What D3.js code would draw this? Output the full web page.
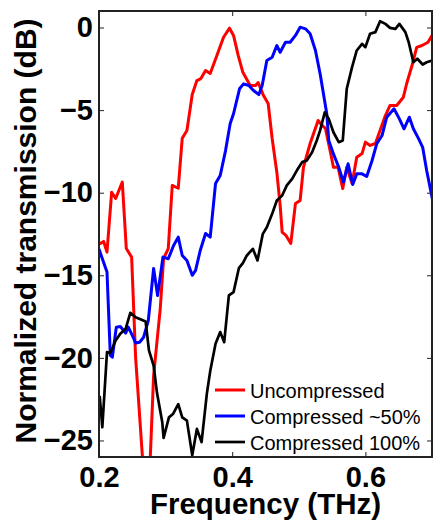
<!DOCTYPE html>
<html>
<head>
<meta charset="utf-8">
<script src="https://cdn.jsdelivr.net/npm/d3@7"></script>
<style>
body { margin:0; background:#fff; }
svg { display:block; font-family:"Liberation Sans", Arial, sans-serif; }
</style>
</head>
<body>
<svg></svg>
<script>
//----------data----------------------------------
var seriesNames = ["Uncompressed", "Compressed ~50%", "Compressed 100%"];
var seriesColors = ["#ff0000", "#0000ff", "#000000"];

var freqUncomp = [0.201,0.207,0.212,0.219,0.225,0.235,0.241,0.249,0.255,0.262,0.2695,0.2745,0.282,0.292,0.297,
	0.304,0.310,0.319,0.325,0.332,0.340,0.347,0.353,0.360,0.367,0.377,0.387,0.396,0.402,0.409,
	0.416,0.427,0.435,0.439,0.447,0.454,0.460,0.467,0.472,0.475,0.481,0.488,0.495,0.502,0.507,
	0.517,0.529,0.535,0.540,0.547,0.552,0.559,0.566,0.572,0.580,0.587,0.595,0.600,0.607,0.615,
	0.622,0.630,0.637,0.647,0.657,0.662,0.670,0.677,0.685,0.694,0.700];
var dbUncomp = [-13.1,-12.95,-13.6,-9.97,-10.35,-9.36,-13.38,-13.9,-20.0,-24.1,-28.5,-28.5,-21.07,-17.0,-13.98,
	-13.38,-9.56,-9.73,-6.70,-6.23,-4.06,-3.21,-3.09,-2.6,-2.78,-1.69,-0.59,-0.04,-0.48,-1.69,
	-2.71,-3.51,-3.51,-3.33,-4.12,-4.6,-6.72,-8.76,-10.77,-12.39,-12.6,-13.07,-10.65,-10.47,-8.46,
	-7.02,-5.63,-5.93,-6.11,-7.45,-8.46,-8.46,-9.75,-8.46,-9.44,-7.85,-7.63,-6.94,-7.14,-7.02,
	-6.24,-5.33,-4.72,-4.72,-4.22,-3.39,-2.3,-1.2,-1.09,-0.89,-0.48];

var freqHalf = [0.200,0.205,0.212,0.217,0.220,0.226,0.232,0.240,0.244,0.250,0.255,0.261,0.267,0.274,0.282,
	0.288,0.296,0.304,0.312,0.319,0.325,0.332,0.340,0.345,0.352,0.360,0.367,0.375,0.382,0.390,
	0.397,0.402,0.411,0.417,0.425,0.432,0.440,0.445,0.452,0.460,0.467,0.472,0.480,0.487,0.495,
	0.502,0.510,0.517,0.525,0.532,0.537,0.542,0.545,0.552,0.560,0.567,0.574,0.581,0.587,0.595,
	0.602,0.610,0.617,0.625,0.632,0.643,0.651,0.658,0.666,0.672,0.680,0.686,0.692,0.701];
var dbHalf = [-13.4,-14.0,-14.8,-19.85,-19.96,-18.14,-18.1,-18.5,-18.14,-18.64,-19.1,-19.05,-18.75,-17.74,-14.59,
	-16.22,-13.9,-14.0,-13.2,-12.69,-13.8,-14.1,-15.0,-14.7,-13.5,-12.47,-12.69,-9.44,-8.96,-7.45,
	-5.81,-5.22,-3.71,-3.41,-3.51,-3.81,-4.06,-3.51,-2.0,-1.8,-1.09,-1.5,-0.89,-0.89,-0.48,
	0.02,-0.08,-0.38,-1.39,-2.8,-4.01,-5.22,-6.84,-7.65,-8.46,-9.36,-8.25,-9.5,-8.86,-8.86,
	-9.02,-8.05,-7.04,-6.54,-5.43,-4.92,-5.53,-6.13,-5.43,-6.13,-6.74,-7.25,-8.66,-10.47];

var freqFull = [0.201,0.205,0.212,0.217,0.225,0.232,0.240,0.247,0.255,0.270,0.275,0.282,0.287,0.295,0.297,
	0.305,0.311,0.319,0.325,0.332,0.340,0.347,0.354,0.362,0.367,0.375,0.382,0.388,0.395,0.402,
	0.410,0.416,0.422,0.431,0.438,0.446,0.452,0.460,0.467,0.475,0.482,0.490,0.497,0.505,0.512,
	0.520,0.527,0.532,0.539,0.545,0.552,0.560,0.566,0.572,0.580,0.587,0.595,0.600,0.607,0.615,
	0.622,0.630,0.637,0.645,0.651,0.660,0.665,0.672,0.678,0.686,0.692,0.700];
var dbFull = [-22.3,-24.2,-19.65,-19.7,-18.95,-18.54,-18.24,-17.27,-17.54,-17.8,-19.55,-20.46,-22.1,-23.9,-24.85,
	-23.6,-23.4,-22.8,-23.6,-23.8,-25.9,-24.3,-25.1,-22.15,-20.8,-19.15,-18.44,-19.05,-16.22,-16.02,
	-14.57,-14.26,-13.8,-13.4,-14.1,-12.49,-12.09,-11.28,-10.47,-10.17,-9.56,-9.16,-8.66,-8.15,-8.05,
	-7.55,-6.84,-6.23,-5.13,-5.53,-6.34,-6.94,-6.84,-3.71,-2.4,-1.39,-0.99,-1.19,-0.38,-0.28,
	0.38,0.22,-0.02,-0.08,0.22,-0.28,-0.89,-2.1,-1.89,-2.24,-2.1,-2.0];

var xTicks = [0.2, 0.4, 0.6];
var yTicks = [0, -5, -10, -15, -20, -25];

//----------drawing-------------
var screen = {width:434, height:521};
var margins = {left:99, right:2, top:11, bottom:64};
var graph = {
	width: screen.width - margins.left - margins.right,
	height: screen.height - margins.top - margins.bottom
};

var svg = d3.select("svg")
	.attr("width", screen.width)
	.attr("height", screen.height);

var xScale = d3.scaleLinear().domain([0.2, 0.7]).range([0, graph.width]);
var yScale = d3.scaleLinear().domain([1, -26]).range([0, graph.height]);

var target = svg.append("g")
	.attr("transform", "translate(" + margins.left + "," + margins.top + ")");

svg.append("defs").append("clipPath").attr("id", "plotclip")
	.append("rect").attr("width", graph.width).attr("height", graph.height);

var series = [
	{name: seriesNames[0], color: seriesColors[0], x: freqUncomp, y: dbUncomp, w: 3},
	{name: seriesNames[1], color: seriesColors[1], x: freqHalf, y: dbHalf, w: 3},
	{name: seriesNames[2], color: seriesColors[2], x: freqFull, y: dbFull, w: 2.7}
];

var line = d3.line()
	.x(function(d) { return xScale(d[0]); })
	.y(function(d) { return yScale(d[1]); });

target.append("g").attr("clip-path", "url(#plotclip)")
	.selectAll("path")
	.data(series)
	.enter()
	.append("path")
	.attr("fill", "none")
	.attr("stroke", function(s) { return s.color; })
	.attr("stroke-width", function(s) { return s.w; })
	.attr("stroke-linejoin", "round")
	.attr("d", function(s) { return line(d3.zip(s.x, s.y)); });

// axes, ticks pointing inward
var styleAxis = function(g) {
	g.select(".domain").remove();
	g.selectAll(".tick line").attr("stroke", "#222").attr("stroke-width", 1);
	g.selectAll("text").attr("fill", "#000").style("font-size", "29px").style("font-weight", "bold")
		.style("font-family", "'Liberation Sans', Arial, sans-serif");
};

target.append("g")
	.attr("transform", "translate(0," + graph.height + ")")
	.call(d3.axisBottom(xScale).tickValues(xTicks).tickSize(-5).tickPadding(9).tickFormat(d3.format(".1f")))
	.call(styleAxis);
target.append("g")
	.call(d3.axisTop(xScale).tickValues(xTicks).tickSize(-5).tickFormat(""))
	.call(styleAxis);
target.append("g")
	.call(d3.axisLeft(yScale).tickValues(yTicks).tickSize(-5).tickPadding(6).tickFormat(d3.format("d")))
	.call(styleAxis);
target.append("g")
	.attr("transform", "translate(" + graph.width + ",0)")
	.call(d3.axisRight(yScale).tickValues(yTicks).tickSize(-5).tickFormat(""))
	.call(styleAxis);

target.append("rect")
	.attr("width", graph.width)
	.attr("height", graph.height)
	.attr("fill", "none")
	.attr("stroke", "#222")
	.attr("stroke-width", 2);

// axis titles
svg.append("text")
	.attr("x", margins.left + graph.width / 2)
	.attr("y", 514)
	.attr("text-anchor", "middle")
	.style("font-size", "29.5px").style("font-weight", "bold")
	.text("Frequency (THz)");

svg.append("text")
	.attr("transform", "translate(36," + (margins.top + graph.height / 2 - 3) + ") rotate(-90)")
	.attr("text-anchor", "middle")
	.style("font-size", "30px").style("font-weight", "bold")
	.text("Normalized transmission (dB)");

// legend
var legend = svg.append("g").attr("transform", "translate(215,390)");
var rows = legend.selectAll("g")
	.data(series)
	.enter()
	.append("g")
	.attr("transform", function(s, i) { return "translate(0," + (i * 26) + ")"; });
rows.append("line")
	.attr("x1", 0).attr("x2", 30)
	.attr("stroke", function(s) { return s.color; })
	.attr("stroke-width", function(s) { return s.w; });
rows.append("text")
	.attr("x", 35)
	.attr("y", 8)
	.style("font-size", "20px")
	.text(function(s) { return s.name; });
</script>
</body>
</html>
